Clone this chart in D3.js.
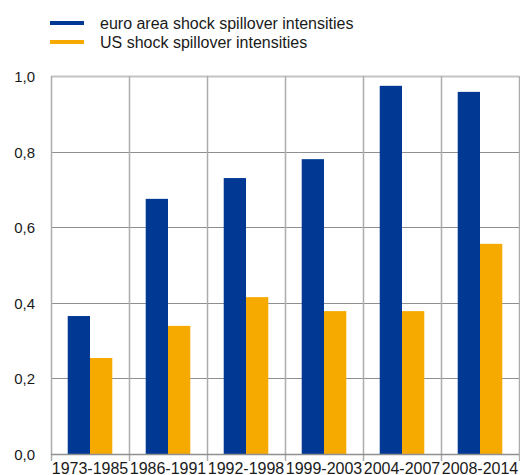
<!DOCTYPE html>
<html><head><meta charset="utf-8">
<script src="https://cdn.jsdelivr.net/npm/d3@7"></script>
<style>body{margin:0;background:#fff}svg{display:block;font-family:"Liberation Sans",Arial,sans-serif}</style>
</head><body><svg id="c" width="520" height="475"></svg>
<script>
const categories = ["1973-1985","1986-1991","1992-1998","1999-2003","2004-2007","2008-2014"];
const euroArea = [0.365,0.675,0.730,0.780,0.974,0.958];
const us = [0.254,0.339,0.415,0.378,0.378,0.556];
const seriesNames = ["euro area shock spillover intensities","US shock spillover intensities"];
const colors = ["#003894","#F6AA00"];
const yTicks = [0,0.2,0.4,0.6,0.8,1.0];

(function(){
const svg = d3.select("#c");
const pL = 51, pR = 519, pT = 76, pB = 454;
const x = d3.scaleBand().domain(categories).range([pL,pR]).paddingInner(0).paddingOuter(0);
const y = d3.scaleLinear().domain([0,1]).range([pB,pT]);
const inner = d3.scaleBand().domain([0,1]).range([0,x.bandwidth()]).paddingInner(0).paddingOuter(0.75);

// horizontal grid
svg.append("g").selectAll("line").data(yTicks.filter(t=>t>0)).join("line")
  .attr("x1",pL).attr("x2",pR)
  .attr("y1",d=>Math.round(y(d))+0.5).attr("y2",d=>Math.round(y(d))+0.5)
  .attr("stroke",d=>d===1?"#c4c4c4":"#8f8f8f").attr("stroke-width",d=>d===1?2:1);
// vertical grid
const bounds = categories.map(c=>x(c)).concat([pR]);
svg.append("g").selectAll("line").data(bounds).join("line")
  .attr("x1",d=>Math.round(d)+0.5).attr("x2",d=>Math.round(d)+0.5)
  .attr("y1",pT).attr("y2",pB+7)
  .attr("stroke","#adadad").attr("stroke-width",1.5);

// bars
const data = [euroArea, us];
data.forEach((vals,si)=>{
  svg.append("g").selectAll("rect").data(vals).join("rect")
    .attr("x",(d,i)=>x(categories[i])+inner(si))
    .attr("width",inner.bandwidth())
    .attr("y",d=>y(d)).attr("height",d=>y(0)-y(d))
    .attr("fill",colors[si]);
});

// baseline
svg.append("line").attr("x1",pL).attr("x2",pR)
  .attr("y1",pB+0.5).attr("y2",pB+0.5).attr("stroke","#8f8f8f").attr("stroke-width",1.5);

// y labels
svg.append("g").selectAll("text").data(yTicks).join("text")
  .attr("x",35).attr("y",d=>y(d)+6).attr("text-anchor","end")
  .attr("font-size",15).attr("fill","#1a1a1a")
  .text(d=>d3.format(".1f")(d).replace(".",","));

// x labels
svg.append("g").selectAll("text").data(categories).join("text")
  .attr("x",d=>x(d)+x.bandwidth()/2).attr("y",474).attr("text-anchor","middle")
  .attr("font-size",16).attr("fill","#1a1a1a").text(d=>d);

// legend
seriesNames.forEach((n,i)=>{
  const ly = 23 + i*19;
  svg.append("line").attr("x1",50).attr("x2",84).attr("y1",ly).attr("y2",ly)
    .attr("stroke",colors[i]).attr("stroke-width",4);
  svg.append("text").attr("x",100).attr("y",ly+5.5).attr("font-size",16).attr("fill","#1a1a1a").text(n);
});
})();
</script></body></html>
